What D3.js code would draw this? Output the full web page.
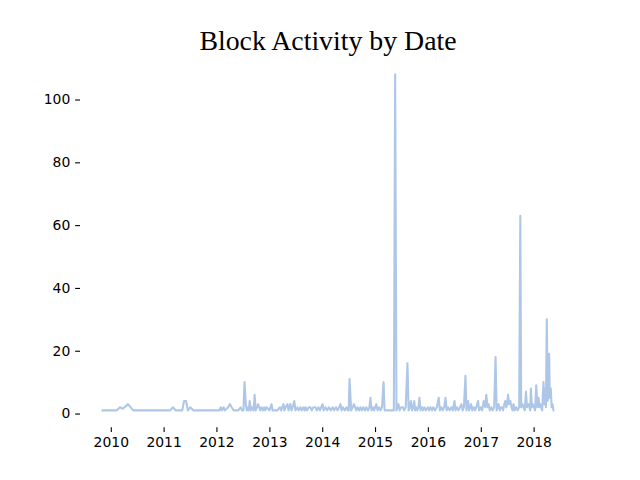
<!DOCTYPE html>
<html>
<head>
<meta charset="utf-8">
<script src="https://cdn.jsdelivr.net/npm/d3@7"></script>
<style>
  html, body { margin: 0; padding: 0; background: #fff; }
  svg { display: block; }
</style>
</head>
<body>
<svg id="chart" width="640" height="480"></svg>
<script>
const titleText = "Block Activity by Date";
const yTicks = [0, 20, 40, 60, 80, 100];
const xTickYears = [2010, 2011, 2012, 2013, 2014, 2015, 2016, 2017, 2018];

const dates = [
  "2009-11-05","2009-12-20",
  "2010-02-10","2010-03-05","2010-03-25","2010-04-30","2010-06-05","2010-12-31",
  "2011-02-15","2011-03-07","2011-03-25","2011-05-10","2011-05-22","2011-06-05","2011-06-18","2011-07-05","2011-07-25",
  "2012-01-22","2012-01-31","2012-02-07","2012-02-20","2012-02-27","2012-03-22","2012-04-03","2012-04-15","2012-04-29","2012-06-01","2012-06-16","2012-06-26",
  "2012-07-06","2012-07-13","2012-07-22","2012-07-29","2012-08-05","2012-08-11","2012-08-18","2012-08-26","2012-09-03","2012-09-14","2012-09-21",
  "2012-09-28","2012-10-07","2012-10-15","2012-10-30","2012-11-08","2012-11-18","2012-11-26","2012-12-03","2012-12-13",
  "2013-01-01","2013-01-16","2013-01-23","2013-02-10","2013-02-25","2013-03-15","2013-03-23","2013-04-08","2013-04-15","2013-04-23",
  "2013-05-06","2013-05-13","2013-05-26","2013-06-03","2013-06-11","2013-06-22","2013-06-30","2013-07-14","2013-07-22","2013-08-04",
  "2013-08-12","2013-08-24","2013-09-01","2013-09-08","2013-09-18","2013-09-30","2013-10-12","2013-10-20","2013-11-01","2013-11-16",
  "2013-11-24","2013-12-06","2013-12-16",
  "2014-01-03","2014-01-11","2014-01-24","2014-02-04","2014-02-16","2014-03-01","2014-03-14","2014-03-24","2014-04-06","2014-04-16",
  "2014-04-28","2014-05-07","2014-05-14","2014-05-24","2014-06-06","2014-06-18","2014-06-27","2014-07-03","2014-07-09","2014-07-20",
  "2014-07-31","2014-08-08","2014-08-25","2014-09-02","2014-09-14","2014-09-22","2014-10-03","2014-10-12","2014-10-24","2014-11-02",
  "2014-11-14","2014-11-23","2014-11-30","2014-12-08","2014-12-18","2014-12-26",
  "2015-01-10","2015-01-18","2015-01-29","2015-02-08","2015-02-18","2015-03-01","2015-03-08","2015-05-11","2015-05-20","2015-05-29",
  "2015-06-12","2015-06-20","2015-07-01","2015-07-13","2015-07-21","2015-08-01","2015-08-13","2015-08-21","2015-08-30","2015-09-06",
  "2015-09-14","2015-09-22","2015-09-29","2015-10-05","2015-10-12","2015-10-20","2015-10-28","2015-11-04","2015-11-11","2015-11-20",
  "2015-11-29","2015-12-08","2015-12-18",
  "2016-01-01","2016-01-10","2016-01-19","2016-01-30","2016-02-08","2016-02-20","2016-03-03","2016-03-16","2016-03-24","2016-04-03",
  "2016-04-13","2016-04-23","2016-05-02","2016-05-10","2016-05-20","2016-05-31","2016-06-12","2016-06-22","2016-07-03","2016-07-10",
  "2016-07-20","2016-07-31","2016-08-10","2016-08-20","2016-08-28","2016-09-06","2016-09-17","2016-09-24","2016-10-05","2016-10-12",
  "2016-10-19","2016-10-26","2016-11-03","2016-11-13","2016-11-22","2016-12-01","2016-12-13","2016-12-20",
  "2017-01-01","2017-01-10","2017-01-21","2017-01-31","2017-02-08","2017-02-16","2017-02-24","2017-03-04","2017-03-14","2017-03-24",
  "2017-04-03","2017-04-13","2017-04-20","2017-05-04","2017-05-12","2017-05-20","2017-05-27","2017-06-04","2017-06-12","2017-06-19",
  "2017-06-26","2017-07-02","2017-07-08","2017-07-16","2017-07-24","2017-08-01","2017-08-08","2017-08-15","2017-08-23","2017-09-03",
  "2017-09-13","2017-09-23","2017-10-01","2017-10-07","2017-10-16","2017-10-23","2017-11-01","2017-11-09","2017-11-16","2017-11-26",
  "2017-12-03","2017-12-08","2017-12-13","2017-12-20","2017-12-27",
  "2018-01-04","2018-01-11","2018-01-19","2018-01-27","2018-02-04","2018-02-10","2018-02-15","2018-02-22","2018-03-01","2018-03-10",
  "2018-03-16","2018-03-22","2018-03-27","2018-04-02","2018-04-08","2018-04-13","2018-04-18","2018-04-23","2018-04-30","2018-05-05",
  "2018-05-11","2018-05-18"
];

const counts = [
  1,1,
  1,2,1.5,3,1,1,
  1,2,1,1,4,4,1,2,1,
  1,2,1,2,1,2,3,2,1,1,2,1,
  1,10,3,1,2,1,4,1,2,1,6,
  1,2,3,1,2,1,2,1,2,
  1,3,1,1,1,2,1,3,1,2,
  3,1,3,1,2,4,1,2,1,2,
  1,2,1,2,1,2,2,1,2,2,
  1,2,1,
  3,1,2,1,2,1,2,1,2,1,
  2,3,1,2,1,2,1,1,11,1,
  2,3,1,2,1,2,1,2,1,2,
  1,2,5,1,2,1,
  3,1,2,1,2,10,1,1,108,1,
  3,1,2,2,1,2,16,1,2,4,
  1,2,4,1,2,1,2,5,1,2,
  1,2,1,
  2,1,2,1,2,1,2,5,1,2,
  1,2,5,1,2,1,2,1,4,1,
  2,1,2,3,1,2,12,1,4,1,
  2,3,1,2,1,2,4,1,
  2,1,4,2,6,2,3,1,2,1,
  2,18,1,3,1,2,2,1,3,4,
  2,3,6,3,4,2,1,3,1,2,
  1,2,63,2,3,2,1,7,2,3,
  2,1,8,2,3,
  2,1,9,2,5,2,3,2,1,10,
  3,8,2,30,4,6,19,5,8,2,
  3,1
];

const parse = d3.timeParse("%Y-%m-%d");
const n = Math.min(dates.length, counts.length);
const data = d3.range(n).map(i => ({ date: parse(dates[i]), value: counts[i] }));

const W = 640, H = 480;
const mLeft = 80, mRight = 576, mTop = 57.6, mBottom = 427.2;

const xExt = d3.extent(data, d => d.date);
const xSpan = xExt[1] - xExt[0];
const x = d3.scaleTime()
  .domain([new Date(+xExt[0] - 0.05 * xSpan), new Date(+xExt[1] + 0.05 * xSpan)])
  .range([mLeft, mRight]);

const yExt = d3.extent(data, d => d.value);
const ySpan = yExt[1] - yExt[0];
const y = d3.scaleLinear()
  .domain([yExt[0] - 0.05 * ySpan, yExt[1] + 0.05 * ySpan])
  .range([mBottom, mTop]);

const svg = d3.select("#chart");

svg.append("text")
  .attr("x", (mLeft + mRight) / 2)
  .attr("y", 49.5)
  .attr("text-anchor", "middle")
  .attr("font-family", "'Liberation Serif', 'Times New Roman', serif")
  .attr("font-size", 27.8)
  .attr("fill", "#000")
  .text(titleText);

const line = d3.line()
  .x(d => x(d.date))
  .y(d => y(d.value));

svg.append("path")
  .datum(data)
  .attr("fill", "none")
  .attr("stroke", "#aec7e8")
  .attr("stroke-width", 2.08)
  .attr("stroke-linejoin", "round")
  .attr("stroke-linecap", "square")
  .attr("d", line);

const tickFont = "'DejaVu Sans', sans-serif";
const tickSize = 13.9;

const yAxis = d3.axisLeft(y)
  .tickValues(yTicks)
  .tickSize(4.86)
  .tickPadding(4.86)
  .tickFormat(d3.format("d"));

const gy = svg.append("g")
  .attr("transform", `translate(${mLeft},0)`)
  .call(yAxis);
gy.select(".domain").remove();
gy.selectAll(".tick line").attr("stroke", "#000").attr("stroke-width", 1.1);
gy.selectAll(".tick text").attr("font-family", tickFont).attr("font-size", tickSize).attr("fill", "#000");

const xAxis = d3.axisBottom(x)
  .tickValues(xTickYears.map(yr => new Date(yr, 0, 1)))
  .tickSize(4.86)
  .tickPadding(4.86)
  .tickFormat(d3.timeFormat("%Y"));

const gx = svg.append("g")
  .attr("transform", `translate(0,${mBottom})`)
  .call(xAxis);
gx.select(".domain").remove();
gx.selectAll(".tick line").attr("stroke", "#000").attr("stroke-width", 1.1);
gx.selectAll(".tick text").attr("font-family", tickFont).attr("font-size", tickSize).attr("fill", "#000");
</script>
</body>
</html>
